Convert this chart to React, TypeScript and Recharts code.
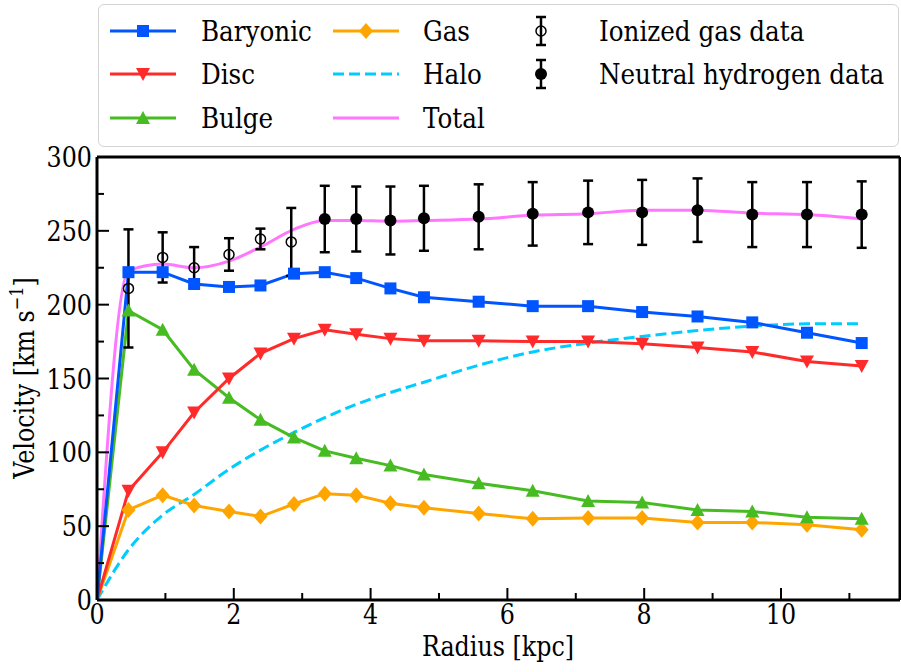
import React from "react";
import { ComposedChart, Line, Scatter, ErrorBar, XAxis, YAxis, ReferenceLine } from "recharts";

// radii of the model curves [kpc]
const radius = [0, 0.46, 0.96, 1.42, 1.93, 2.39, 2.88, 3.33, 3.79, 4.29, 4.78, 5.58, 6.37, 7.18, 7.97, 8.78, 9.58, 10.38, 11.18];

// model velocities [km/s]
const baryonic = [0, 222, 222, 214, 212, 213, 221, 222, 218, 211, 205, 202, 199, 199, 195, 192, 188, 181, 174];
const disc = [0, 74, 100, 127, 150, 167, 177, 183, 180, 177, 175.5, 175.5, 175, 175, 173.5, 171, 168, 161.5, 158.5];
const bulge = [0, 196, 183, 156, 137, 122, 110, 101, 96, 91, 85, 79, 74, 67, 66, 61, 60, 56, 55];
const gas = [0, 61, 71, 64, 60, 56.5, 65, 72, 71, 65.5, 62.5, 58.5, 55, 55.5, 55.5, 52.5, 52.5, 51, 47.5];
const halo = [0, 34, 57.5, 71.5, 88.5, 101.5, 113.5, 123.5, 132.5, 140.5, 147.5, 159, 168, 174, 178.5, 182.5, 185.5, 187, 187];
const total = [0, 223, 227.5, 225, 229.5, 239, 251, 257, 257, 256.5, 257, 258, 260.5, 261.5, 264, 264, 262, 261, 258];

// observations
const ionizedRadius = [0.46, 0.96, 1.42, 1.93, 2.39, 2.84];
const ionizedVel = [211, 232, 225, 234, 244.5, 242.5];
const ionizedErr = [40, 17, 14, 11, 7, 23];

const neutralRadius = [3.33, 3.79, 4.29, 4.78, 5.58, 6.37, 7.18, 7.97, 8.78, 9.58, 10.38, 11.18];
const neutralVel = [258, 258, 257, 258.5, 259.5, 261.5, 262.5, 262.5, 264, 261, 261, 261];
const neutralErr = [22.5, 22, 23, 22, 22, 21.5, 21.5, 22, 21.5, 22, 22, 22.5];

// axis ticks
const xTicks = [0, 1, 2, 3, 4, 5, 6, 7, 8, 9, 10, 11];
const xMajor = [0, 2, 4, 6, 8, 10];
const yTicks = [0, 25, 50, 75, 100, 125, 150, 175, 200, 225, 250, 275, 300];
const yMajor = [0, 50, 100, 150, 200, 250, 300];
const xMax = 11.74;

// only serif face that resolves here; squeezed a bit to get closer to the LaTeX look
const FONT = "DejaVu Serif";

const rows = radius.map((r, i) => ({
  r,
  baryonic: baryonic[i],
  disc: disc[i],
  bulge: bulge[i],
  gas: gas[i],
  halo: halo[i],
  total: total[i]
}));
const ionizedData = ionizedRadius.map((r, i) => ({ r, v: ionizedVel[i], err: ionizedErr[i] }));
const neutralData = neutralRadius.map((r, i) => ({ r, v: neutralVel[i], err: neutralErr[i] }));

function T({
  x,
  y,
  anchor = "start",
  rotate,
  squeeze = 0.85,
  children
}: {
  x: number;
  y: number;
  anchor?: "start" | "middle" | "end";
  rotate?: number;
  squeeze?: number;
  children: React.ReactNode;
}) {
  const tf = `translate(${x},${y})${rotate ? ` rotate(${rotate})` : ""} scale(${squeeze},1)`;
  return (
    <g transform={tf}>
      <text x={0} y={0} textAnchor={anchor} fontFamily={FONT} fontSize={28} fill="#000">
        {children}
      </text>
    </g>
  );
}

type MarkerKind = "square" | "down" | "up" | "diamond" | "none";

function Marker({ kind, cx, cy, color }: { kind: MarkerKind; cx: number; cy: number; color: string }) {
  if (kind === "square") return <rect x={cx - 6} y={cy - 6} width={12} height={12} fill={color} />;
  if (kind === "down")
    return <polygon points={`${cx - 7},${cy - 6} ${cx + 7},${cy - 6} ${cx},${cy + 7}`} fill={color} />;
  if (kind === "up")
    return <polygon points={`${cx - 7},${cy + 6} ${cx + 7},${cy + 6} ${cx},${cy - 7}`} fill={color} />;
  if (kind === "diamond")
    return <polygon points={`${cx},${cy - 8} ${cx + 7},${cy} ${cx},${cy + 8} ${cx - 7},${cy}`} fill={color} />;
  return null;
}

const series: { key: string; name: string; color: string; marker: MarkerKind; dash?: string; smooth?: boolean }[] = [
  { key: "baryonic", name: "Baryonic", color: "#0055ff", marker: "square" },
  { key: "disc", name: "Disc", color: "#ff2b2b", marker: "down" },
  { key: "bulge", name: "Bulge", color: "#47bc22", marker: "up" },
  { key: "gas", name: "Gas", color: "#ffa500", marker: "diamond" },
  { key: "halo", name: "Halo", color: "#00ccff", marker: "none", dash: "11 5", smooth: true },
  { key: "total", name: "Total", color: "#ff77ff", marker: "none", smooth: true }
];
const drawOrder = ["total", "halo", "gas", "bulge", "disc", "baryonic"];

const XTick = ({ x, y, payload }: any) => {
  const major = xMajor.includes(payload.value);
  return (
    <g>
      <line x1={x} x2={x} y1={y} y2={y - (major ? 12 : 7)} stroke="#000" strokeWidth={2} />
      {major && (
        <T x={x} y={y + 24} anchor="middle">
          {payload.value}
        </T>
      )}
    </g>
  );
};

const YTick = ({ x, y, payload }: any) => {
  const major = yMajor.includes(payload.value);
  return (
    <g>
      <line x1={x} x2={x + (major ? 12 : 7)} y1={y} y2={y} stroke="#000" strokeWidth={2} />
      {major && (
        <T x={x - 5} y={y + 10} anchor="end">
          {payload.value}
        </T>
      )}
    </g>
  );
};

const YLabel = () => (
  <T x={34} y={378} rotate={-90} anchor="middle">
    Velocity [km s
    <tspan dy={-11} fontSize={19}>−1</tspan>
    <tspan dy={11}>]</tspan>
  </T>
);

const XLabel = () => (
  <T x={498} y={656} anchor="middle">
    Radius [kpc]
  </T>
);

function Legend() {
  const rowsY = [26, 69, 113];
  const cols = [
    { x0: 11, x1: 77, tx: 102 },
    { x0: 234, x1: 300, tx: 324 }
  ];
  const dataEntries = [
    { name: "Ionized gas data", open: true },
    { name: "Neutral hydrogen data", open: false }
  ];
  return (
    <div
      style={{
        position: "absolute",
        left: 98,
        top: 4,
        width: 799,
        height: 141,
        border: "1.5px solid #d4d4d4",
        borderRadius: 6,
        background: "rgba(255,255,255,0.85)"
      }}
    >
      <svg width={799} height={141} style={{ display: "block" }}>
        {series.map((s, i) => {
          const c = cols[Math.floor(i / 3)];
          const y = rowsY[i % 3];
          const mid = (c.x0 + c.x1) / 2;
          return (
            <g key={s.key}>
              <line x1={c.x0} x2={c.x1} y1={y} y2={y} stroke={s.color} strokeWidth={3} strokeDasharray={s.dash} />
              <Marker kind={s.marker} cx={mid} cy={y} color={s.color} />
              <T x={c.tx} y={y + 10} squeeze={0.88}>
                {s.name}
              </T>
            </g>
          );
        })}
        {dataEntries.map((d, i) => {
          const y = rowsY[i];
          const x = 442;
          return (
            <g key={d.name}>
              <line x1={x} x2={x} y1={y - 14} y2={y + 14} stroke="#000" strokeWidth={2.5} />
              <line x1={x - 5} x2={x + 5} y1={y - 14} y2={y - 14} stroke="#000" strokeWidth={2.5} />
              <line x1={x - 5} x2={x + 5} y1={y + 14} y2={y + 14} stroke="#000" strokeWidth={2.5} />
              {d.open ? (
                <circle cx={x} cy={y} r={5} fill="none" stroke="#000" strokeWidth={1.5} />
              ) : (
                <circle cx={x} cy={y} r={6} fill="#000" />
              )}
              <T x={500} y={y + 10} squeeze={0.88}>
                {d.name}
              </T>
            </g>
          );
        })}
      </svg>
    </div>
  );
}

export default function App() {
  return (
    <div style={{ position: "relative", width: 901, height: 672, background: "#fff" }}>
      <style>{"body{margin:0}"}</style>
      <ComposedChart width={901} height={672} data={rows} margin={{ top: 157, right: 1, bottom: 0, left: 0 }}>
        <XAxis
          dataKey="r"
          type="number"
          domain={[0, xMax]}
          ticks={xTicks}
          interval={0}
          height={72}
          tickSize={0}
          tickMargin={0}
          tickLine={false}
          tick={<XTick />}
          axisLine={{ stroke: "#000", strokeWidth: 3 }}
          label={<XLabel />}
          allowDataOverflow
        />
        <YAxis
          type="number"
          domain={[0, 300]}
          ticks={yTicks}
          interval={0}
          width={97}
          tickSize={0}
          tickMargin={0}
          tickLine={false}
          tick={<YTick />}
          axisLine={{ stroke: "#000", strokeWidth: 3 }}
          label={<YLabel />}
          allowDataOverflow
        />
        <ReferenceLine y={300} stroke="#000" strokeWidth={3} />
        <ReferenceLine x={xMax} stroke="#000" strokeWidth={3} />
        {drawOrder.map((k) => {
          const s = series.find((q) => q.key === k)!;
          return (
            <Line
              key={s.key}
              dataKey={s.key}
              name={s.name}
              type={s.smooth ? "monotone" : "linear"}
              stroke={s.color}
              strokeWidth={3}
              strokeDasharray={s.dash}
              isAnimationActive={false}
              activeDot={false}
              dot={(p: any) =>
                p.index === 0 || s.marker === "none" ? (
                  <g key={p.index} />
                ) : (
                  <Marker key={p.index} kind={s.marker} cx={p.cx} cy={p.cy} color={s.color} />
                )
              }
            />
          );
        })}
        <Scatter
          data={ionizedData}
          dataKey="v"
          name="Ionized gas data"
          isAnimationActive={false}
          shape={(p: any) => <circle cx={p.cx} cy={p.cy} r={5} fill="none" stroke="#000" strokeWidth={1.5} />}
        >
          <ErrorBar dataKey="err" direction="y" width={5} stroke="#000" strokeWidth={2.5} isAnimationActive={false} />
        </Scatter>
        <Scatter
          data={neutralData}
          dataKey="v"
          name="Neutral hydrogen data"
          isAnimationActive={false}
          shape={(p: any) => <circle cx={p.cx} cy={p.cy} r={6} fill="#000" />}
        >
          <ErrorBar dataKey="err" direction="y" width={5} stroke="#000" strokeWidth={2.5} isAnimationActive={false} />
        </Scatter>
      </ComposedChart>
      <Legend />
    </div>
  );
}
